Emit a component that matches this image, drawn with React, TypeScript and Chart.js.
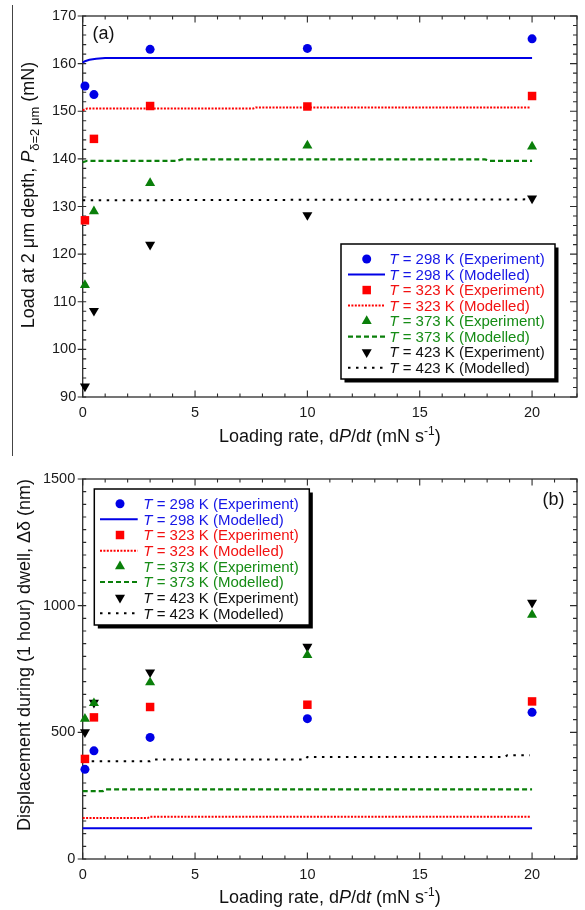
import React, { useEffect, useRef } from 'react';
import { Chart, registerables } from 'chart.js';

Chart.register(...registerables);

const FONT = '"Liberation Sans", Arial, Helvetica, sans-serif';

// ---------------- data ----------------
const loadingRate = [0.1, 0.5, 3, 10, 20];
const temperatures = ['298', '323', '373', '423'];

// (a) load at 2 um depth (mN)
const loadExp298 = [155.3, 153.5, 163.0, 163.2, 165.2];
const loadExp323 = [127.1, 144.2, 151.1, 151.0, 153.2];
const loadExp373 = [113.5, 129.0, 134.9, 142.8, 142.6];
const loadExp423 = [92.2, 108.1, 122.0, 128.2, 131.7];

const loadModX298 = [0, 0.1, 0.3, 0.6, 1.0, 20];
const loadModY298 = [160.2, 160.5, 160.8, 161.0, 161.2, 161.2];
const loadModX323 = [0, 0.2, 7.6, 7.7, 19.9];
const loadModY323 = [150.2, 150.6, 150.6, 150.8, 150.8];
const loadModX373 = [0, 0.2, 4.2, 4.4, 17.9, 18.1, 20];
const loadModY373 = [139.3, 139.6, 139.6, 139.9, 139.9, 139.6, 139.6];
const loadModX423 = [0, 10, 20];
const loadModY423 = [131.3, 131.4, 131.5];

// (b) displacement during 1 hour dwell (nm)
const dispExp298 = [354, 427, 480, 554, 579];
const dispExp323 = [395, 559, 600, 609, 622];
const dispExp373 = [553, 615, 697, 805, 964];
const dispExp423 = [501, 617, 737, 838, 1012];

const dispModX298 = [0, 20];
const dispModY298 = [121, 121];
const dispModX323 = [0, 2.9, 3.0, 19.9];
const dispModY323 = [162, 162, 167, 167];
const dispModX373 = [0, 0.9, 1.0, 20];
const dispModY373 = [268, 268, 275, 275];
const dispModX423 = [0.4, 3.0, 3.1, 9.9, 10.0, 18.8, 18.9, 19.9];
const dispModY423 = [386, 386, 393, 393, 403, 403, 410, 410];

// ticks
const xTickLabels = [0, 5, 10, 15, 20];
const loadTickLabels = [90, 100, 110, 120, 130, 140, 150, 160, 170];
const dispTickLabels = [0, 500, 1000, 1500];

// ---------------- styles ----------------
const STYLES = [
  { color: '#0000e6', text: '#1616e6', point: 'circle', r: 4.5, rot: 0, dash: [] as number[], lw: 2 },
  { color: '#ff0000', text: '#f21212', point: 'rect', r: 6.0, rot: 0, dash: [2, 1.4], lw: 2 },
  { color: '#0a7f0a', text: '#168c16', point: 'triangle', r: 5.8, rot: 0, dash: [5, 3], lw: 2.2 },
  { color: '#000000', text: '#111111', point: 'triangle', r: 5.8, rot: 180, dash: [2.5, 5.5], lw: 2 },
];

type Run = { t: string; italic?: boolean; size?: number; dy?: number };

function setFont(ctx: CanvasRenderingContext2D, r: Run, base: number) {
  ctx.font = `${r.italic ? 'italic ' : ''}${r.size ?? base}px ${FONT}`;
}
function runsWidth(ctx: CanvasRenderingContext2D, runs: Run[], base: number) {
  let w = 0;
  for (const r of runs) {
    setFont(ctx, r, base);
    w += ctx.measureText(r.t).width;
  }
  return w;
}
function drawRuns(ctx: CanvasRenderingContext2D, runs: Run[], x: number, y: number, base: number) {
  let cx = x;
  ctx.textAlign = 'left';
  ctx.textBaseline = 'alphabetic';
  for (const r of runs) {
    setFont(ctx, r, base);
    ctx.fillText(r.t, cx, y + (r.dy ?? 0));
    cx += ctx.measureText(r.t).width;
  }
}

function drawMarker(ctx: CanvasRenderingContext2D, st: any, x: number, y: number) {
  ctx.save();
  ctx.fillStyle = st.color;
  ctx.beginPath();
  if (st.point === 'circle') {
    ctx.arc(x, y, st.r, 0, Math.PI * 2);
  } else if (st.point === 'rect') {
    const h = st.r * Math.SQRT1_2;
    ctx.rect(x - h, y - h, 2 * h, 2 * h);
  } else {
    for (let i = 0; i < 3; i++) {
      const a = (st.rot * Math.PI) / 180 + (i * 2 * Math.PI) / 3;
      const px = x + Math.sin(a) * st.r;
      const py = y - Math.cos(a) * st.r;
      if (i === 0) ctx.moveTo(px, py);
      else ctx.lineTo(px, py);
    }
    ctx.closePath();
  }
  ctx.fill();
  ctx.restore();
}

type Spec = {
  exp: number[][];
  modX: number[][];
  modY: number[][];
  yMin: number;
  yMax: number;
  yTicks: number[];
  yMinorStep: number;
  padTop: number;
  xAxisH: number;
  yLabelPad: number;
  panel: { t: string; x: number; y: number };
  yTitle: { runs: Run[]; x: number; cy: number };
  xTitleY: number;
  legend: { x: number; y: number; w: number; h: number; markX: number; l0: number; l1: number; textX: number; row0: number; gap: number };
};

const xTitleRuns: Run[] = [
  { t: 'Loading rate, d' },
  { t: 'P', italic: true },
  { t: '/d' },
  { t: 't', italic: true },
  { t: ' (mN s' },
  { t: '-1', size: 12, dy: -7 },
  { t: ')' },
];

const specA: Spec = {
  exp: [loadExp298, loadExp323, loadExp373, loadExp423],
  modX: [loadModX298, loadModX323, loadModX373, loadModX423],
  modY: [loadModY298, loadModY323, loadModY373, loadModY423],
  yMin: 90,
  yMax: 170,
  yTicks: loadTickLabels,
  yMinorStep: 2,
  padTop: 16,
  xAxisH: 58,
  yLabelPad: 6.5,
  panel: { t: '(a)', x: 92.5, y: 38.5 },
  yTitle: {
    runs: [
      { t: 'Load at 2 μm depth, ' },
      { t: 'P', italic: true },
      { t: 'δ=2 μm', size: 13, dy: 4.5 },
      { t: ' (mN)' },
    ],
    x: 34,
    cy: 195,
  },
  xTitleY: 441.5,
  legend: { x: 341, y: 244, w: 214, h: 135, markX: 366.7, l0: 348, l1: 385, textX: 389.3, row0: 259, gap: 15.53 },
};

const specB: Spec = {
  exp: [dispExp298, dispExp323, dispExp373, dispExp423],
  modX: [dispModX298, dispModX323, dispModX373, dispModX423],
  modY: [dispModY298, dispModY323, dispModY373, dispModY423],
  yMin: 0,
  yMax: 1500,
  yTicks: dispTickLabels,
  yMinorStep: 50,
  padTop: 24,
  xAxisH: 51,
  yLabelPad: 7.5,
  panel: { t: '(b)', x: 542.5, y: 49.5 },
  yTitle: {
    runs: [{ t: 'Displacement during (1 hour) dwell, Δδ (nm)' }],
    x: 30,
    cy: 200,
  },
  xTitleY: 448,
  legend: { x: 94.3, y: 34, w: 215, h: 136, markX: 120, l0: 100, l1: 137.7, textX: 143.3, row0: 48.7, gap: 15.66 },
};

function makeDecor(spec: Spec) {
  return {
    id: 'decor',
    beforeDatasetsDraw(chart: any) {
      const ctx: CanvasRenderingContext2D = chart.ctx;
      const { left, right, top, bottom } = chart.chartArea;
      const xs = chart.scales.x;
      const ys = chart.scales.y;
      ctx.save();
      ctx.strokeStyle = '#2b2b2b';
      ctx.lineWidth = 1.3;
      ctx.strokeRect(left, top, right - left, bottom - top);
      ctx.lineWidth = 1.1;
      ctx.beginPath();
      for (let v = 0; v <= 22; v += 1) {
        const px = xs.getPixelForValue(v);
        const major = xTickLabels.includes(v);
        const len = major ? 6.5 : 3.5;
        ctx.moveTo(px, bottom);
        ctx.lineTo(px, bottom - len);
        ctx.moveTo(px, top);
        ctx.lineTo(px, top + len);
      }
      for (let v = spec.yMin; v <= spec.yMax + 1e-6; v += spec.yMinorStep) {
        const py = ys.getPixelForValue(v);
        const major = spec.yTicks.includes(v);
        if (major) {
          ctx.moveTo(left - 5, py);
          ctx.lineTo(left + 3.5, py);
          ctx.moveTo(right, py);
          ctx.lineTo(right - 7, py);
        } else {
          ctx.moveTo(left, py);
          ctx.lineTo(left + 3.5, py);
          ctx.moveTo(right, py);
          ctx.lineTo(right - 4, py);
        }
      }
      ctx.stroke();
      ctx.restore();
    },
    afterDraw(chart: any) {
      const ctx: CanvasRenderingContext2D = chart.ctx;
      const { left, right } = chart.chartArea;
      ctx.save();
      ctx.fillStyle = '#111';
      // panel label
      ctx.font = `18px ${FONT}`;
      ctx.textAlign = 'left';
      ctx.textBaseline = 'alphabetic';
      ctx.fillText(spec.panel.t, spec.panel.x, spec.panel.y);
      // x title
      const xw = runsWidth(ctx, xTitleRuns, 18);
      drawRuns(ctx, xTitleRuns, (left + right) / 2 - xw / 2, spec.xTitleY, 18);
      // y title
      ctx.save();
      ctx.translate(spec.yTitle.x, spec.yTitle.cy);
      ctx.rotate(-Math.PI / 2);
      const yw = runsWidth(ctx, spec.yTitle.runs, 18);
      drawRuns(ctx, spec.yTitle.runs, -yw / 2, 0, 18);
      ctx.restore();

      // legend
      const L = spec.legend;
      ctx.fillStyle = '#000';
      ctx.fillRect(L.x + 3.5, L.y + 3.5, L.w, L.h);
      ctx.fillStyle = '#fff';
      ctx.fillRect(L.x, L.y, L.w, L.h);
      ctx.strokeStyle = '#000';
      ctx.lineWidth = 1.5;
      ctx.strokeRect(L.x, L.y, L.w, L.h);
      temperatures.forEach((temp, i) => {
        const st = STYLES[i];
        const yExp = L.row0 + 2 * i * L.gap;
        const yMod = yExp + L.gap;
        drawMarker(ctx, st, L.markX, yExp);
        ctx.save();
        ctx.strokeStyle = st.color;
        ctx.lineWidth = st.lw;
        ctx.setLineDash(st.dash);
        ctx.beginPath();
        ctx.moveTo(L.l0, yMod);
        ctx.lineTo(L.l1, yMod);
        ctx.stroke();
        ctx.restore();
        ctx.fillStyle = st.text;
        drawRuns(ctx, [{ t: 'T', italic: true }, { t: ` = ${temp} K (Experiment)` }], L.textX, yExp + 5.3, 15);
        drawRuns(ctx, [{ t: 'T', italic: true }, { t: ` = ${temp} K (Modelled)` }], L.textX, yMod + 5.3, 15);
      });
      ctx.restore();
    },
  };
}

function Panel({ spec }: { spec: Spec }) {
  const ref = useRef<HTMLCanvasElement | null>(null);
  useEffect(() => {
    if (!ref.current) return;
    const datasets: any[] = [];
    temperatures.forEach((temp, i) => {
      const st = STYLES[i];
      datasets.push({
        label: `T = ${temp} K (Experiment)`,
        data: loadingRate.map((x, k) => ({ x, y: spec.exp[i][k] })),
        showLine: false,
        pointStyle: st.point,
        pointRadius: st.r,
        pointRotation: st.rot,
        pointBackgroundColor: st.color,
        pointBorderColor: st.color,
        pointBorderWidth: 0,
        clip: false,
        order: i,
      });
      datasets.push({
        label: `T = ${temp} K (Modelled)`,
        data: spec.modX[i].map((x, k) => ({ x, y: spec.modY[i][k] })),
        showLine: true,
        borderColor: st.color,
        borderWidth: st.lw,
        borderDash: st.dash,
        pointRadius: 0,
        tension: 0,
        fill: false,
        clip: false,
        order: 10 + i,
      });
    });
    const chart = new Chart(ref.current, {
      type: 'scatter',
      data: { datasets },
      options: {
        responsive: false,
        animation: false,
        events: [],
        layout: { padding: { top: spec.padTop, right: 8, left: 0, bottom: 0 } },
        plugins: { legend: { display: false }, tooltip: { enabled: false } },
        scales: {
          x: {
            type: 'linear',
            min: 0,
            max: 22,
            grid: { display: false, drawTicks: false },
            border: { display: false },
            afterBuildTicks: (s: any) => {
              s.ticks = xTickLabels.map((v) => ({ value: v }));
            },
            afterFit: (s: any) => {
              s.height = spec.xAxisH;
            },
            ticks: {
              color: '#1a1a1a',
              padding: 7,
              maxRotation: 0,
              font: { family: FONT, size: 14.5 },
              callback: (v: any) => String(v),
            },
          },
          y: {
            type: 'linear',
            min: spec.yMin,
            max: spec.yMax,
            grid: { display: false, drawTicks: false },
            border: { display: false },
            afterBuildTicks: (s: any) => {
              s.ticks = spec.yTicks.map((v) => ({ value: v }));
            },
            afterFit: (s: any) => {
              s.width = 82.7;
            },
            ticks: {
              color: '#1a1a1a',
              padding: spec.yLabelPad,
              font: { family: FONT, size: 14.5 },
              callback: (v: any) => String(v),
            },
          },
        },
      },
      plugins: [makeDecor(spec)],
    });
    return () => chart.destroy();
  }, [spec]);
  return <canvas ref={ref} width={585} height={455} style={{ display: 'block', width: 585, height: 455 }} />;
}

export default function App() {
  return (
    <div style={{ position: 'absolute', left: 0, top: 0, width: 585, height: 910, background: '#fff', overflow: 'hidden' }}>
      <div style={{ position: 'absolute', left: 12, top: 5, width: 0, height: 451, borderLeft: '1px solid #444' }} />
      <div style={{ position: 'absolute', left: 0, top: 0 }}>
        <Panel spec={specA} />
      </div>
      <div style={{ position: 'absolute', left: 0, top: 455 }}>
        <Panel spec={specB} />
      </div>
    </div>
  );
}
